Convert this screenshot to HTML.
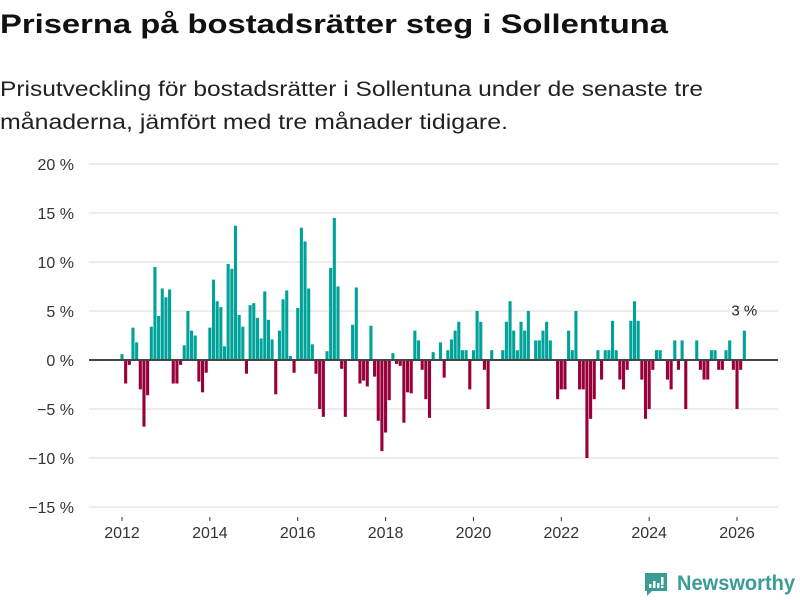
<!DOCTYPE html>
<html><head><meta charset="utf-8"><style>
html,body{margin:0;padding:0;background:#fff;}
svg{display:block;font-family:"Liberation Sans",sans-serif;}
</style></head><body>
<svg id="chart" width="800" height="600" viewBox="0 0 800 600">
<text x="0" y="33" font-size="27" font-weight="bold" fill="#111" textLength="668" lengthAdjust="spacingAndGlyphs">Priserna på bostadsrätter steg i Sollentuna</text>
<text x="0" y="96" font-size="21" fill="#222" textLength="703" lengthAdjust="spacingAndGlyphs">Prisutveckling för bostadsrätter i Sollentuna under de senaste tre</text>
<text x="0" y="129" font-size="21" fill="#222" textLength="508" lengthAdjust="spacingAndGlyphs">månaderna, jämfört med tre månader tidigare.</text>
<g id="grid"></g><g id="bars"></g><g id="xaxis"></g>
<g>
<path d="M645 573 h22 v18 h-15 l-5 5 v-5 h-2 z" fill="#3a9d95"/>
<rect x="649" y="584" width="2.5" height="4" fill="#fff"/><rect x="653" y="581" width="2.5" height="7" fill="#fff"/><rect x="657" y="583" width="2.5" height="5" fill="#fff"/><rect x="661" y="577" width="2.5" height="8" fill="#fff"/><rect x="661" y="586" width="2.5" height="2" fill="#fff"/>
<text x="677" y="590" font-size="21" font-weight="bold" fill="#3a9d95" textLength="118" lengthAdjust="spacingAndGlyphs">Newsworthy</text>
</g>
</svg>
<script>
const startYear = 2012;
const values = [0.6,-2.4,-0.5,3.3,1.8,-3,-6.8,-3.6,3.4,9.5,4.5,7.3,6.4,7.2,-2.4,-2.4,-0.5,1.5,5,3,2.5,-2.2,-3.3,-1.3,3.3,8.2,6,5.4,1.4,9.8,9.3,13.7,4.6,3.4,
-1.4,5.6,5.8,4.3,2.2,7,4.1,2.1,-3.5,3,6.2,7.1,0.4,-1.3,5.3,13.5,12.1,7.3,1.6,-1.4,-5,-5.8,0.9,9.4,14.5,7.5,-0.9,-5.8,0,3.6,7.4,-2.4,-2.1,-2.7,
3.5,-1.7,-6.2,-9.3,-7.4,-4.1,0.7,-0.4,-0.6,-6.4,-3.3,-3.4,3,2,-1,-4,-5.9,0.8,0,1.8,-1.8,1,2.1,3,3.9,1,1,-3,1,5,3.9,-1,-5,1,0,0,
1,3.9,6,3,1,3.9,3,5,0,2,2,3,3.9,2,0,-4,-3,-3,3,1,5,-3,-3,-10,-6,-4,1,-2,1,1,4,1,-2,-3,-1,
4,6,4,-2,-6,-5,-1,1,1,0,-2,-3,2,-1,2,-5,0,0,2,-1,-2,-2,1,1,-1,-1,1,2,-1,-5,-1,3];
const yTicks = [20,15,10,5,0,-5,-10,-15];
const xTicks = [2012,2014,2016,2018,2020,2022,2024,2026];
const lastLabel = "3 %";

const NS = "http://www.w3.org/2000/svg";
const y = v => 360 - v * 9.8;
const x = yr => 122 + (yr - 2012) * 43.93;
const mk = (tag, attrs, parent) => { const e = document.createElementNS(NS, tag); for (const k in attrs) e.setAttribute(k, attrs[k]); parent.appendChild(e); return e; };
const grid = document.getElementById('grid'), barsG = document.getElementById('bars'), xa = document.getElementById('xaxis');

yTicks.forEach(t => {
  if (t !== 0) {
    const l = mk('line', {x1: 89, x2: 778, y1: y(t), y2: y(t), stroke: '#e2e2e2', 'stroke-width': 1.3}, grid);
    
    
  }
  const tx = mk('text', {x: 74, y: y(t) + 6, 'font-size': 16, fill: '#333', 'text-anchor': 'end'}, grid);
  tx.textContent = (t < 0 ? '\u2212' + Math.abs(t) : t) + ' %';
  
  
});

const bw = 3.1;
values.forEach((v, i) => {
  const cx = x(startYear + i / 12);
  const r = mk('rect', {x: cx - bw / 2, y: Math.min(y(v), 360), width: bw, height: Math.abs(y(v) - 360), fill: v >= 0 ? '#00a39a' : '#98003a'}, barsG);
  
  
});
const zl = mk('line', {x1: 89, x2: 778, y1: 360, y2: 360, stroke: '#444', 'stroke-width': 2}, barsG);



const li = values.length - 1;
const lab = mk('text', {x: x(startYear + li / 12), y: y(values[li]) - 15, 'font-size': 15, fill: '#222', 'text-anchor': 'middle'}, barsG);
lab.textContent = lastLabel;



xTicks.forEach(t => {
  const tk = mk('line', {x1: x(t), x2: x(t), y1: 517, y2: 521, stroke: '#333', 'stroke-width': 1}, xa);
  
  
  const tx = mk('text', {x: x(t), y: 538, 'font-size': 16, fill: '#333', 'text-anchor': 'middle'}, xa);
  tx.textContent = t;
  
  
});
</script>
</body></html>
